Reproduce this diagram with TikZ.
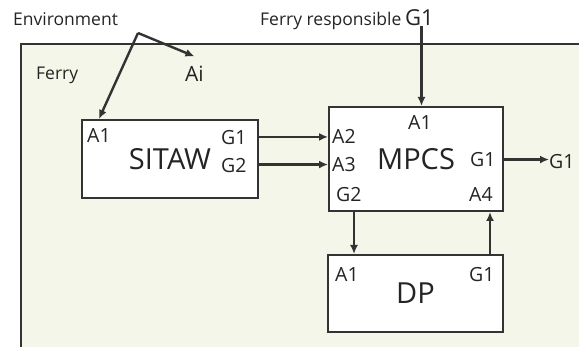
\documentclass[tikz,border=0pt]{standalone}
\usepackage{fontspec}
\setmainfont{Open Sans}
\usetikzlibrary{arrows.meta}
\definecolor{ink}{HTML}{333333}
\definecolor{ferrybg}{HTML}{F4F6E9}

\tikzset{
  block/.style={draw=ink,line width=2pt,fill=white,inner sep=0pt,text=ink!70!black,font=\fontsize{29}{30}\selectfont},
  port/.style={inner sep=0pt,anchor=base west,text=ink!70!black,font=\fontsize{19.5}{20}\selectfont},
  note/.style={inner sep=0pt,anchor=base west,text=ink!70!black,font=\fontsize{17.5}{20}\selectfont},
  flow/.style={->,draw=ink,line width=2.4pt},
}

\begin{document}
\begin{tikzpicture}[x=1pt,y=-1pt,>={Latex[length=9pt,width=8pt]}]
\useasboundingbox (0,0) rectangle (579,347);
% Ferry
\draw[draw=ink,line width=2pt,fill=ferrybg] (21,44) rectangle (600,370);
\node[note] (ferry) at (36,80) {Ferry};
\node[note] (env) at (13,26) {Environment};
\node[note] (resp) at (260,26) {Ferry responsible};
\node[port,font=\fontsize{22}{24}\selectfont] (respg) at (405,26) {G1};
\node[port,font=\fontsize{21}{24}\selectfont] (ai) at (185,82) {Ai};

% Blocks
\node[block,minimum width=176pt,minimum height=78pt] (sitaw) at (170,159) {SITAW};
\node[block,minimum width=174pt,minimum height=104pt] (mpcs) at (416,159) {MPCS};
\node[block,minimum width=175pt,minimum height=77pt] (dp) at (415.5,293.5) {DP};

% Ports
\node[port] (sa1) at (87,143) {A1};
\node[port] (sg1) at (221,145) {G1};
\node[port] (sg2) at (221,172.5) {G2};
\node[port] (ma1) at (408,130) {A1};
\node[port] (ma2) at (332,144) {A2};
\node[port] (ma3) at (332,171.5) {A3};
\node[port] (mg1) at (470,166.5) {G1};
\node[port] (mg2) at (336,202) {G2};
\node[port] (ma4) at (469,202) {A4};
\node[port] (da1) at (335,281.5) {A1};
\node[port] (dg1) at (469,281.5) {G1};
\node[port] (out) at (549,168.5) {G1};

% Flows
\coordinate (fork) at (138,33);
\draw[flow] (fork) -- (sa1 |- sitaw.north);
\draw[flow] (fork) -- ([yshift=10pt]ai.north);
\draw[flow] ([xshift=2pt]respg.south) -- ([xshift=2pt]respg.south |- mpcs.north);
\draw[flow] (sitaw.east |- ma2) -- (mpcs.west |- ma2);
\draw[flow] (sitaw.east |- ma3) -- (mpcs.west |- ma3);
\draw[flow] (mpcs.east |- mg1) -- (out.west |- mg1);
\draw[flow] ([xshift=26pt]mpcs.south west) -- ([xshift=27pt]dp.north west);
\draw[flow] ([xshift=-14pt]dp.north east) -- ([xshift=-14pt]mpcs.south east);
\end{tikzpicture}
\end{document}
